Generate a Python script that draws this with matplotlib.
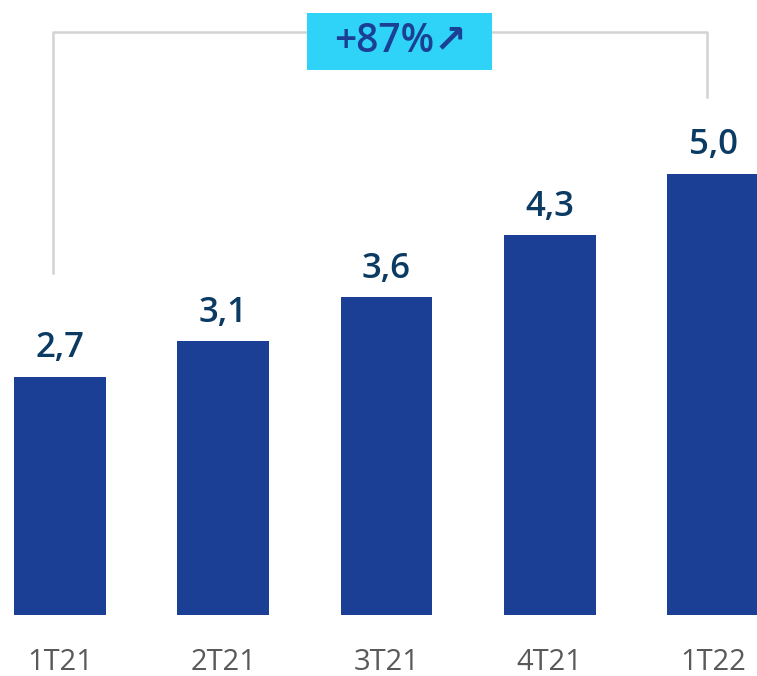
import matplotlib
matplotlib.use("Agg")
import matplotlib.pyplot as plt
from matplotlib.patches import Rectangle

categories = ["1T21", "2T21", "3T21", "4T21", "1T22"]
values = [2.7, 3.1, 3.6, 4.3, 5.0]
value_labels = ["2,7", "3,1", "3,6", "4,3", "5,0"]
growth_label = "+87%↗"

W, H = 757, 676
fig = plt.figure(figsize=(W / 100, H / 100), dpi=100)
ax = fig.add_axes([0, 61 / H, 1, 615 / H])
x = list(range(len(categories)))
ax.bar(x, values, width=0.563, color="#1A3F95")
ax.set_xlim(-0.3675, 4.2695)
ax.set_ylim(0, 6.965)
for s in ax.spines.values():
    s.set_visible(False)
ax.set_yticks([])
ax.set_xticks(x)
ax.set_xticklabels(categories, fontsize=21, color="#595959",
                   family=["Open Sans", "DejaVu Sans"], fontweight="normal")
ax.tick_params(axis="x", length=0, pad=24)

for xi, v, lab in zip(x, values, value_labels):
    ax.annotate(lab, (xi, v), xytext=(0, 14), textcoords="offset points",
                ha="center", va="baseline", fontsize=25, fontweight="semibold",
                color="#0B3A63", family=["Open Sans", "DejaVu Sans"])

def px(xp, yp):
    return xp / W, 1 - yp / H

line_color = "#D3D3D3"
pts = [px(53, 273), px(53, 32), px(707, 32), px(707, 97)]
fig.lines.append(plt.Line2D([p[0] for p in pts], [p[1] for p in pts],
                            transform=fig.transFigure, color=line_color, lw=1.8))
x0, y1 = px(307, 70)
x1, y0 = px(492, 13)
fig.patches.append(Rectangle((x0, y1), x1 - x0, y0 - y1, transform=fig.transFigure,
                             facecolor="#2ED3F7", edgecolor="none", zorder=3))
cx, cy = px(400, 42)
fig.text(cx, cy, growth_label, ha="center", va="center", fontsize=28, fontweight="semibold",
         color="#1B3F95", family=["Open Sans", "DejaVu Sans"], zorder=4)

fig.savefig("out.png", dpi=100)
